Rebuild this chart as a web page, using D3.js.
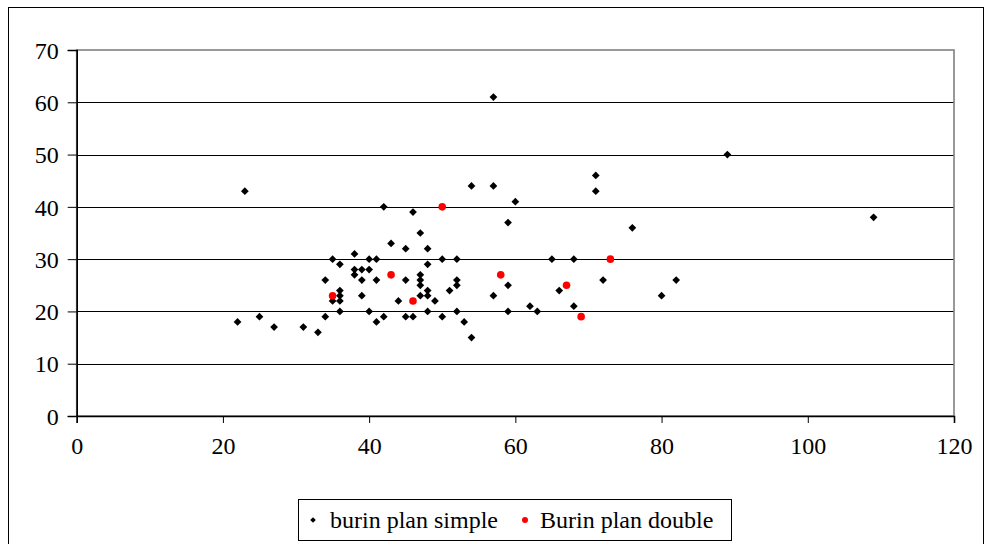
<!DOCTYPE html>
<html><head><meta charset="utf-8">
<script src="https://cdn.jsdelivr.net/npm/d3@7"></script>
<style>
html,body{margin:0;padding:0;background:#fff;}
svg{display:block;}
</style></head>
<body><svg id="c" width="985" height="544"></svg>
<script>
const seriesNames = ["burin plan simple", "Burin plan double"];
const simpleX = [22,23,25,27,31,33,34,34,35,35,36,36,36,36,36,38,38,38,39,39,39,40,40,40,41,41,41,42,42,43,44,45,45,45,46,46,47,47,47,47,47,48,48,48,48,48,49,50,50,51,52,52,52,52,53,54,54,57,57,57,59,59,59,60,62,63,65,66,68,68,71,71,72,76,80,82,89,109];
const simpleY = [18,43,19,17,17,16,19,26,30,22,29,24,23,22,20,31,28,27,28,26,23,30,28,20,30,26,18,40,19,33,22,32,26,19,39,19,35,27,26,25,23,32,29,24,23,20,22,30,19,24,30,26,25,20,18,44,15,61,44,23,37,25,20,41,21,20,30,24,30,21,46,43,26,36,23,26,50,38];
const doubleX = [35,43,46,50,58,67,69,73];
const doubleY = [23,27,22,40,27,25,19,30];
const xTicks = [0,20,40,60,80,100,120];
const yTicks = [0,10,20,30,40,50,60,70];

const FONT = "Liberation Serif, DejaVu Serif, Tinos, Times New Roman, serif";
const svg = d3.select("#c");
const L = 76.7, R = 954, T = 50, B = 416;
const x = d3.scaleLinear().domain([0,120]).range([L,R]);
const y = d3.scaleLinear().domain([0,70]).range([B,T]);

svg.append("rect").attr("x",8.5).attr("y",7.5).attr("width",975).attr("height",560)
  .attr("fill","none").attr("stroke","#000").attr("stroke-width",1);

svg.append("g").selectAll("line").data(yTicks.filter(v=>v>0 && v<70)).join("line")
  .attr("x1",L).attr("x2",R).attr("y1",d=>Math.round(y(d))+0.5).attr("y2",d=>Math.round(y(d))+0.5)
  .attr("stroke","#000").attr("stroke-width",1);

svg.append("rect").attr("x",L).attr("y",T).attr("width",R-L).attr("height",B-T)
  .attr("fill","none").attr("stroke","#808080").attr("stroke-width",1.6);

const yAxis = d3.axisLeft(y).tickValues(yTicks).tickSize(9).tickPadding(9).tickFormat(d3.format("d"));
const gy = svg.append("g").attr("transform",`translate(${L},0)`).call(yAxis);
const xAxis = d3.axisBottom(x).tickValues(xTicks).tickSize(7).tickPadding(9).tickFormat(d3.format("d"));
const gx = svg.append("g").attr("transform",`translate(0,${B})`).call(xAxis);
[gx,gy].forEach(g=>{
  g.attr("font-family",FONT).attr("font-size",24);
  g.select(".domain").attr("stroke","#000").attr("stroke-width",1.6);
  g.selectAll(".tick line").attr("stroke","#000");
  g.selectAll("text").attr("fill","#000").attr("font-family",FONT).attr("font-size","24px");
});
gy.selectAll("text").attr("dy","0.34em");
gx.selectAll("text").attr("dy","0.9em");

const diamond = d3.symbol().type(d3.symbolSquare).size(30);
const simple = simpleX.map((v,i)=>({x:v,y:simpleY[i]}));
const dbl = doubleX.map((v,i)=>({x:v,y:doubleY[i]}));
svg.append("g").selectAll("path").data(simple).join("path")
  .attr("d",diamond)
  .attr("transform",d=>`translate(${x(d.x)},${y(d.y)}) rotate(45)`)
  .attr("fill","#000");
svg.append("g").selectAll("circle").data(dbl).join("circle")
  .attr("cx",d=>x(d.x)).attr("cy",d=>y(d.y)).attr("r",3.8)
  .attr("fill","#ff0000");

const lg = svg.append("g").attr("font-family",FONT).attr("font-size","24px");
lg.append("rect").attr("x",298.5).attr("y",499.5).attr("width",433).attr("height",41)
  .attr("fill","#fff").attr("stroke","#000").attr("stroke-width",1);
lg.append("path").attr("d",d3.symbol().type(d3.symbolSquare).size(16))
  .attr("transform","translate(313,520) rotate(45)").attr("fill","#000");
lg.append("text").attr("x",330).attr("y",528).attr("fill","#000").text(seriesNames[0]);
lg.append("circle").attr("cx",525).attr("cy",520).attr("r",3).attr("fill","#ff0000");
lg.append("text").attr("x",540).attr("y",528).attr("fill","#000").text(seriesNames[1]);
</script></body></html>
